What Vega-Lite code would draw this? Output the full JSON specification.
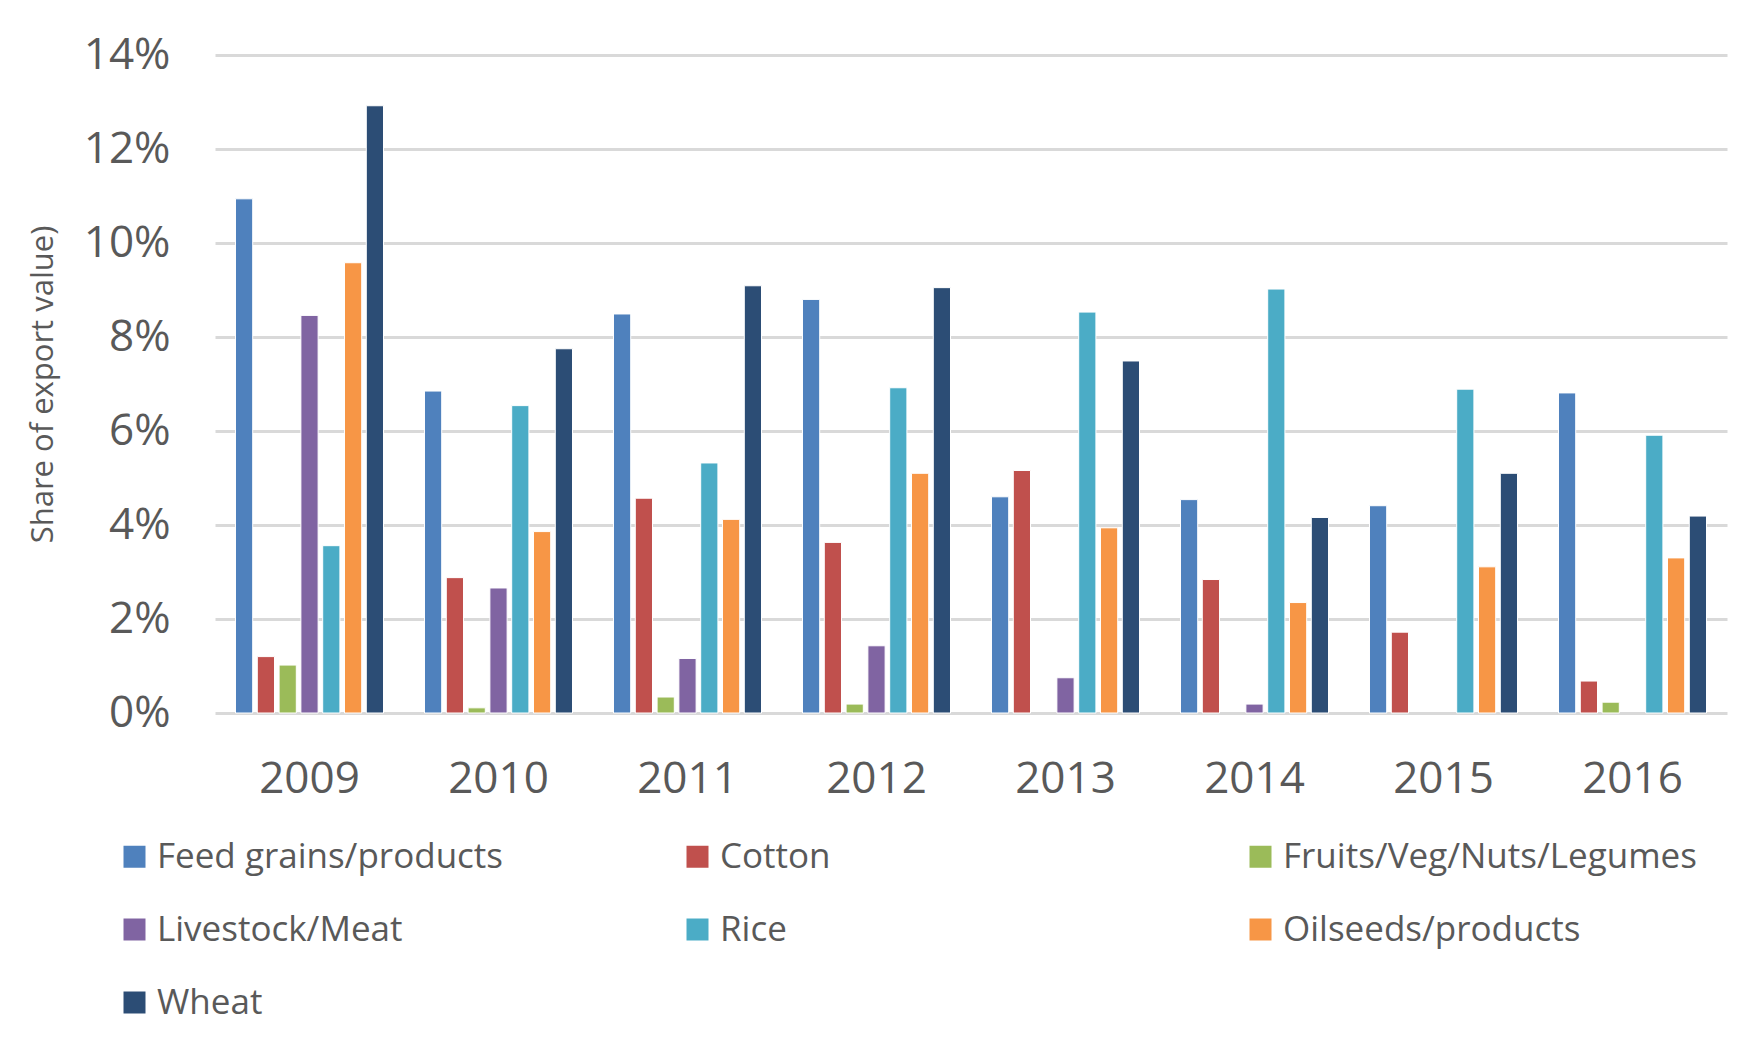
{
  "$schema": "https://vega.github.io/schema/vega-lite/v6.json",
  "autosize": {"type": "none"},
  "padding": {"left": 215, "top": 55, "right": 29, "bottom": 342},
  "width": 1512,
  "height": 658,
  "background": "white",
  "config": {
    "font": "Open Sans",
    "view": {"stroke": null}
  },
  "data": {
    "values": [
      {"year": "2009", "category": "Feed grains/products", "share": 0.1094},
      {"year": "2009", "category": "Cotton", "share": 0.0120},
      {"year": "2009", "category": "Fruits/Veg/Nuts/Legumes", "share": 0.0102},
      {"year": "2009", "category": "Livestock/Meat", "share": 0.0846},
      {"year": "2009", "category": "Rice", "share": 0.0356},
      {"year": "2009", "category": "Oilseeds/products", "share": 0.0958},
      {"year": "2009", "category": "Wheat", "share": 0.1292},
      {"year": "2010", "category": "Feed grains/products", "share": 0.0685},
      {"year": "2010", "category": "Cotton", "share": 0.0288},
      {"year": "2010", "category": "Fruits/Veg/Nuts/Legumes", "share": 0.0011},
      {"year": "2010", "category": "Livestock/Meat", "share": 0.0266},
      {"year": "2010", "category": "Rice", "share": 0.0654},
      {"year": "2010", "category": "Oilseeds/products", "share": 0.0386},
      {"year": "2010", "category": "Wheat", "share": 0.0775},
      {"year": "2011", "category": "Feed grains/products", "share": 0.0849},
      {"year": "2011", "category": "Cotton", "share": 0.0457},
      {"year": "2011", "category": "Fruits/Veg/Nuts/Legumes", "share": 0.0034},
      {"year": "2011", "category": "Livestock/Meat", "share": 0.0116},
      {"year": "2011", "category": "Rice", "share": 0.0532},
      {"year": "2011", "category": "Oilseeds/products", "share": 0.0412},
      {"year": "2011", "category": "Wheat", "share": 0.0909},
      {"year": "2012", "category": "Feed grains/products", "share": 0.0880},
      {"year": "2012", "category": "Cotton", "share": 0.0363},
      {"year": "2012", "category": "Fruits/Veg/Nuts/Legumes", "share": 0.0019},
      {"year": "2012", "category": "Livestock/Meat", "share": 0.0143},
      {"year": "2012", "category": "Rice", "share": 0.0692},
      {"year": "2012", "category": "Oilseeds/products", "share": 0.0510},
      {"year": "2012", "category": "Wheat", "share": 0.0905},
      {"year": "2013", "category": "Feed grains/products", "share": 0.0460},
      {"year": "2013", "category": "Cotton", "share": 0.0516},
      {"year": "2013", "category": "Livestock/Meat", "share": 0.0075},
      {"year": "2013", "category": "Rice", "share": 0.0853},
      {"year": "2013", "category": "Oilseeds/products", "share": 0.0394},
      {"year": "2013", "category": "Wheat", "share": 0.0749},
      {"year": "2014", "category": "Feed grains/products", "share": 0.0454},
      {"year": "2014", "category": "Cotton", "share": 0.0284},
      {"year": "2014", "category": "Livestock/Meat", "share": 0.0019},
      {"year": "2014", "category": "Rice", "share": 0.0902},
      {"year": "2014", "category": "Oilseeds/products", "share": 0.0235},
      {"year": "2014", "category": "Wheat", "share": 0.0416},
      {"year": "2015", "category": "Feed grains/products", "share": 0.0441},
      {"year": "2015", "category": "Cotton", "share": 0.0172},
      {"year": "2015", "category": "Rice", "share": 0.0689},
      {"year": "2015", "category": "Oilseeds/products", "share": 0.0311},
      {"year": "2015", "category": "Wheat", "share": 0.0510},
      {"year": "2016", "category": "Feed grains/products", "share": 0.0681},
      {"year": "2016", "category": "Cotton", "share": 0.0068},
      {"year": "2016", "category": "Fruits/Veg/Nuts/Legumes", "share": 0.0023},
      {"year": "2016", "category": "Rice", "share": 0.0591},
      {"year": "2016", "category": "Oilseeds/products", "share": 0.0330},
      {"year": "2016", "category": "Wheat", "share": 0.0419}
    ]
  },
  "mark": {"type": "bar", "stroke": "white", "strokeWidth": 1},
  "encoding": {
    "x": {
      "field": "year",
      "type": "nominal",
      "scale": {"paddingInner": 0, "paddingOuter": 0},
      "axis": {
        "title": null,
        "labelAngle": 0,
        "labelFontSize": 44,
        "labelColor": "#595959",
        "labelPadding": 44,
        "domain": false,
        "ticks": false
      }
    },
    "xOffset": {
      "field": "category",
      "type": "nominal",
      "sort": ["Feed grains/products", "Cotton", "Fruits/Veg/Nuts/Legumes", "Livestock/Meat", "Rice", "Oilseeds/products", "Wheat"],
      "scale": {"paddingInner": 0.21, "paddingOuter": 0.94}
    },
    "y": {
      "field": "share",
      "type": "quantitative",
      "scale": {"domain": [0, 0.14], "nice": false},
      "axis": {
        "title": "Share of export value)",
        "titleFontSize": 31,
        "titleFontWeight": "normal",
        "titleColor": "#595959",
        "titlePadding": 24,
        "format": ".0%",
        "values": [0, 0.02, 0.04, 0.06, 0.08, 0.1, 0.12, 0.14],
        "labelFontSize": 44,
        "labelColor": "#595959",
        "labelPadding": 45,
        "domain": false,
        "ticks": false,
        "gridColor": "#d9d9d9",
        "gridWidth": 3
      }
    },
    "color": {
      "field": "category",
      "type": "nominal",
      "sort": ["Feed grains/products", "Cotton", "Fruits/Veg/Nuts/Legumes", "Livestock/Meat", "Rice", "Oilseeds/products", "Wheat"],
      "scale": {
        "domain": ["Feed grains/products", "Cotton", "Fruits/Veg/Nuts/Legumes", "Livestock/Meat", "Rice", "Oilseeds/products", "Wheat"],
        "range": ["#4f81bd", "#c0504d", "#9bbb59", "#8064a2", "#4bacc6", "#f79646", "#2c4d75"]
      },
      "legend": {
        "title": null,
        "orient": "none",
        "legendX": -98,
        "legendY": 784,
        "direction": "horizontal",
        "columns": 3,
        "gridAlign": "all",
        "columnPadding": 109,
        "rowPadding": 37,
        "symbolType": "square",
        "symbolSize": 484,
        "symbolStrokeWidth": 0,
        "labelFontSize": 35,
        "labelColor": "#595959",
        "labelOffset": 5,
        "labelLimit": 600
      }
    }
  }
}
